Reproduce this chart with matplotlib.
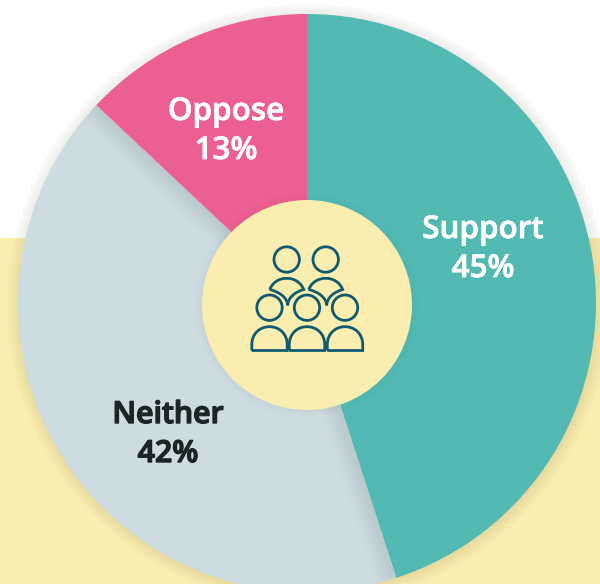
import numpy as np
import matplotlib
matplotlib.use('Agg')
import matplotlib.pyplot as plt
import matplotlib.patheffects as pe
from matplotlib.patches import Circle, Rectangle, PathPatch
from matplotlib.path import Path

plt.rcParams['font.family'] = ['Open Sans', 'DejaVu Sans']

# data
categories = ['Support', 'Neither', 'Oppose']
values = [45, 42, 13]
colors = ['#53B9B3', '#CDDCE0', '#EC5F92']
text_colors = ['white', '#1C2526', 'white']
label_pos = [(483, 238), (168, 423), (226, 120)]
label_sizes = [22.6, 21.8, 22.6]
label_strokes = [0.5, 1.0, 0.5]

yellow = '#F9EDB0'
icon_col = '#0F5A6E'
cx, cy, r = 307, 303, 289

fig = plt.figure(figsize=(6, 5.84), dpi=100)
ax = fig.add_axes([0, 0, 1, 1])

# pixel coords, y down, so a counterclock pie shows clockwise
wedges, _ = ax.pie(values, colors=colors, startangle=-90, counterclock=True,
                   center=(cx, cy), radius=r, wedgeprops={'linewidth': 0})
ax.set_xlim(0, 600)
ax.set_ylim(584, 0)
ax.axis('off')
for w in wedges:
    w.set_zorder(3)

# yellow band
ax.add_patch(Rectangle((0, 238), 600, 346, fc=yellow, ec='none', zorder=0))

# soft shadow round the pie
for lw in np.arange(2, 20, 3):
    ax.add_patch(Circle((cx + 1, cy + 1), r, fc='none', ec='#3A3A20', lw=lw, alpha=0.014, zorder=1))

# shadow on grey slice next to its neighbours
edges = np.cumsum(values) / np.sum(values) * 2 * np.pi - np.pi / 2
for a in [edges[0], edges[1]]:
    for lw in np.arange(2, 30, 3):
        ln, = ax.plot([cx, cx + r * np.cos(a)], [cy, cy + r * np.sin(a)], color='#30404A',
                      lw=lw, alpha=0.009, zorder=3.5, solid_capstyle='butt')
        ln.set_clip_path(wedges[1])

# shadow round the centre circle
for lw in np.arange(2, 12, 3):
    ax.add_patch(Circle((307, 305), 105, fc='none', ec='#30404A', lw=lw, alpha=0.008, zorder=3.6))
ax.add_patch(Circle((307, 305), 105, fc=yellow, ec='none', zorder=4))

# icon
for x, y in [(286.7, 259.5), (325.7, 259.5), (269.5, 307.7), (307, 307.7), (345, 307.7)]:
    ax.add_patch(Circle((x, y), 12.7, fc='none', ec=icon_col, lw=2, zorder=5))

for x in [269.5, 307, 345]:
    verts = [(x - 17.7, 350.5), (x - 17.7, 344.5), (x - 17.7, 334), (x - 10, 326.7), (x, 326.7),
             (x + 10, 326.7), (x + 17.7, 334), (x + 17.7, 344.5), (x + 17.7, 350.5), (x - 17.7, 350.5)]
    codes = [Path.MOVETO, Path.LINETO, Path.CURVE4, Path.CURVE4, Path.CURVE4,
             Path.CURVE4, Path.CURVE4, Path.CURVE4, Path.LINETO, Path.LINETO]
    ax.add_patch(PathPatch(Path(verts, codes), fc='none', ec=icon_col, lw=2, zorder=5))

# upper bodies, top arc then the two hollow sides down to a point
for x in [286.7, 325.7]:
    verts = [(x - 17, 289.5), (x - 11, 274.5), (x + 11, 274.5), (x + 17, 289.5),
             (x + 8, 292), (x + 1, 298), (x + 1, 305.5)]
    codes = [Path.MOVETO, Path.CURVE4, Path.CURVE4, Path.CURVE4, Path.CURVE4, Path.CURVE4, Path.CURVE4]
    ax.add_patch(PathPatch(Path(verts, codes), fc='none', ec=icon_col, lw=2, zorder=5))
    verts = [(x - 17, 289.5), (x - 7, 292), (x + 1, 298), (x + 1, 305.5)]
    codes = [Path.MOVETO, Path.CURVE4, Path.CURVE4, Path.CURVE4]
    ax.add_patch(PathPatch(Path(verts, codes), fc='none', ec=icon_col, lw=2, zorder=5))

# labels, the stroke brings the weight up to the reference
for name, v, pos, c, fs, sw in zip(categories, values, label_pos, text_colors, label_sizes, label_strokes):
    effect = [pe.withStroke(linewidth=sw, foreground=c)]
    ax.text(pos[0], pos[1], name, color=c, ha='center', va='baseline',
            fontsize=fs, fontweight='semibold', zorder=6, path_effects=effect)
    ax.text(pos[0], pos[1] + 39, f'{v}%', color=c, ha='center', va='baseline',
            fontsize=fs, fontweight='semibold', zorder=6, path_effects=effect)

fig.savefig('out.png', dpi=100)
